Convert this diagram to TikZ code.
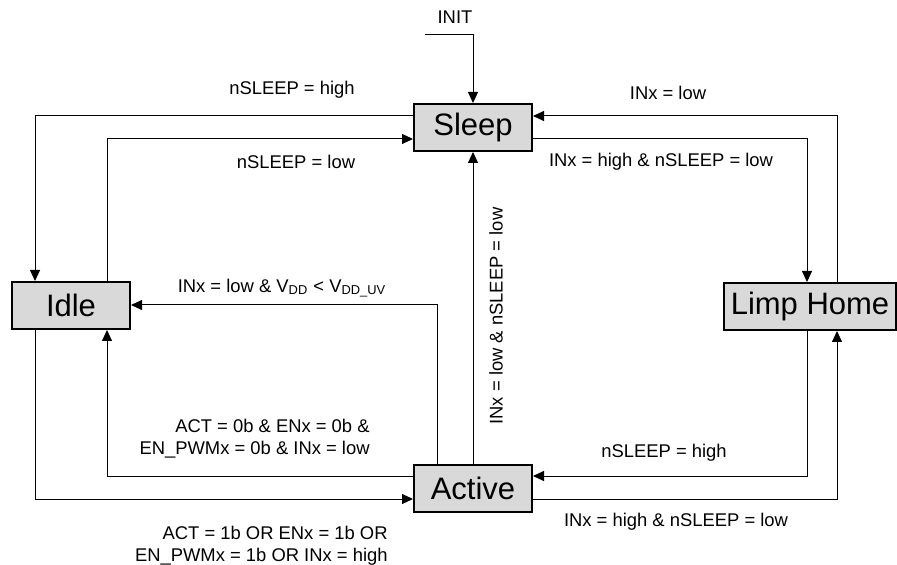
\documentclass[tikz,border=0pt]{standalone}
\usepackage{fontspec}
\setmainfont{Liberation Sans}
\usetikzlibrary{arrows.meta}
\definecolor{stategray}{RGB}{217,217,217}
\tikzset{
         statebox/.style=
          {
           draw=black,line width=1pt,fill=stategray,
           minimum width=59pt,minimum height=23.5pt,inner sep=0pt,
           font=\fontsize{15.5}{18}\selectfont
          },
         trans/.style={line width=.5pt,-{Triangle[length=5.5pt,width=5pt]}},
         cond/.style={inner sep=0pt,font=\fontsize{9.2}{10.8}\selectfont}
        }

\begin{document}
\begin{tikzpicture}[x=.5pt,y=-.5pt]
\useasboundingbox(0,0)rectangle(897,565);
%states
\node[statebox](sleep)at(473,127.5){Sleep};
\node[statebox](idle)at(71,305.5){Idle};
\node[statebox](active)at(473,488){Active};
\node[statebox,minimum width=86pt](limp)at(810,306.5){Limp Home};
%corners
\coordinate(init)at(425,35);
\coordinate(outl)at(35,116);
\coordinate(inl)at(107,139);
\coordinate(outr)at(837,116);
\coordinate(inr)at(807,139);
\coordinate(uv)at(437,305);
\coordinate(lowl)at(107,476);
\coordinate(botl)at(35,499);
\coordinate(lowr)at(807,476);
\coordinate(botr)at(837,499);
%transitions
\draw[trans](init)-|(sleep.north);
\draw[trans](sleep.west|-outl)-|(idle.north-|outl);
\draw[trans](idle.north-|inl)|-(sleep.west|-inl);
\draw[trans](limp.north-|outr)|-(sleep.east|-outr);
\draw[trans](sleep.east|-inr)-|(limp.north-|inr);
\draw[trans](active.north)--(sleep.south);
\draw[trans](active.north-|uv)|-(idle.east|-uv);
\draw[trans](active.west|-lowl)-|(idle.south-|lowl);
\draw[trans](idle.south-|botl)|-(active.west|-botl);
\draw[trans](limp.south-|lowr)|-(active.east|-lowr);
\draw[trans](active.east|-botr)-|(limp.south-|botr);
%labels
\node[cond](linit)at(455,17){INIT};
\node[cond](l1)at(292,90){nSLEEP = high};
\node[cond](l2)at(296,162){nSLEEP = low};
\node[cond](l3)at(668,93){INx = low};
\node[cond](l4)at(661,162){INx = high \& nSLEEP = low};
\node[cond,rotate=90](l5)at(496,316){INx = low \& nSLEEP = low};
\node[cond](l6)at(282,288){INx = low \& V\textsubscript{DD} < V\textsubscript{DD\_UV}};
\node[cond,align=right,anchor=east](l7)at(370,438.5){ACT = 0b \& ENx = 0b \&\\EN\_PWMx = 0b \& INx = low};
\node[cond,align=right,anchor=east](l8)at(388,545.5){ACT = 1b OR ENx = 1b OR\\EN\_PWMx = 1b OR INx = high};
\node[cond](l9)at(664,453){nSLEEP = high};
\node[cond](l10)at(676,522){INx = high \& nSLEEP = low};
\end{tikzpicture}
\end{document}
